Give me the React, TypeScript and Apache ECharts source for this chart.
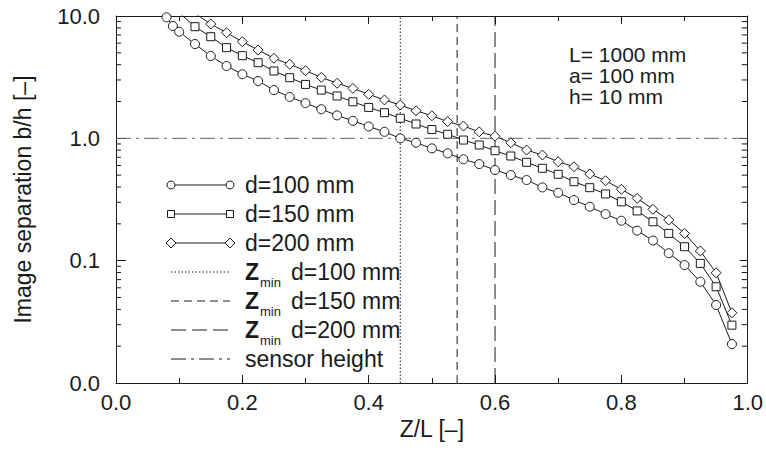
import React, { useEffect, useRef } from "react";
import * as echarts from "echarts";

// ---- data ----
const d100X = [0.08, 0.09, 0.1, 0.125, 0.15, 0.175, 0.2, 0.225, 0.25, 0.275, 0.3, 0.325, 0.35, 0.375, 0.4, 0.425, 0.45, 0.475, 0.5, 0.525, 0.55, 0.575, 0.6, 0.625, 0.65, 0.675, 0.7, 0.725, 0.75, 0.775, 0.8, 0.825, 0.85, 0.875, 0.9, 0.925, 0.95, 0.975];
const d100Y = [9.76, 8.28, 7.44, 5.9, 4.71, 3.9, 3.34, 2.94, 2.48, 2.18, 1.94, 1.73, 1.54, 1.39, 1.25, 1.13, 1.0, 0.921, 0.828, 0.754, 0.674, 0.616, 0.551, 0.501, 0.456, 0.397, 0.359, 0.313, 0.276, 0.24, 0.212, 0.176, 0.146, 0.115, 0.092, 0.0672, 0.0434, 0.0208];

const d150X = [0.1, 0.125, 0.15, 0.175, 0.2, 0.225, 0.25, 0.275, 0.3, 0.325, 0.35, 0.375, 0.4, 0.425, 0.45, 0.475, 0.5, 0.525, 0.55, 0.575, 0.6, 0.625, 0.65, 0.675, 0.7, 0.725, 0.75, 0.775, 0.8, 0.825, 0.85, 0.875, 0.9, 0.925, 0.95, 0.975];
const d150Y = [10.6, 8.18, 6.77, 5.51, 4.74, 4.15, 3.55, 3.13, 2.76, 2.48, 2.22, 1.99, 1.79, 1.62, 1.46, 1.31, 1.18, 1.08, 0.968, 0.882, 0.792, 0.717, 0.637, 0.569, 0.508, 0.442, 0.395, 0.351, 0.303, 0.255, 0.208, 0.167, 0.13, 0.095, 0.0612, 0.0297];

const d200X = [0.125, 0.15, 0.175, 0.2, 0.225, 0.25, 0.275, 0.3, 0.325, 0.35, 0.375, 0.4, 0.425, 0.45, 0.475, 0.5, 0.525, 0.55, 0.575, 0.6, 0.625, 0.65, 0.675, 0.7, 0.725, 0.75, 0.775, 0.8, 0.825, 0.85, 0.875, 0.9, 0.925, 0.95, 0.975];
const d200Y = [10.5, 8.6, 7.3, 6.16, 5.27, 4.51, 4.03, 3.57, 3.15, 2.82, 2.56, 2.29, 2.06, 1.87, 1.68, 1.53, 1.37, 1.26, 1.13, 1.04, 0.92, 0.802, 0.73, 0.644, 0.586, 0.511, 0.45, 0.383, 0.323, 0.263, 0.215, 0.167, 0.12, 0.0796, 0.0375];

const seriesNames = ["d=100 mm", "d=150 mm", "d=200 mm"];
const zminLabels = ["d=100 mm", "d=150 mm", "d=200 mm"];
const zminValues = [0.45, 0.54, 0.6];
const sensorHeight = 1.0;
const sensorLabel = "sensor height";
const yRange = [0.01, 10];
const xRange = [0, 1];
const yMinorTicks = [0.02, 0.03, 0.04, 0.05, 0.06, 0.07, 0.08, 0.09, 0.2, 0.3, 0.4, 0.5, 0.6, 0.7, 0.8, 0.9, 2, 3, 4, 5, 6, 7, 8, 9];
const infoLines = ["L= 1000 mm", "a= 100 mm", "h= 10 mm"];
const xTitle = "Z/L [\u2013]";
const yTitle = "Image separation b/h [\u2013]";

const FONT = "'Liberation Sans', Arial, Helvetica, sans-serif";
const INK = "#1a1a1a";

const zip = (xs: number[], ys: number[]) => xs.map((x, i) => [x, ys[i]]);

export default function App() {
  const ref = useRef<HTMLDivElement>(null);
  useEffect(() => {
    if (!ref.current) return;
    const chart = echarts.init(ref.current, null, { renderer: "svg" });

    const symbols = ["circle", "rect", "diamond"];
    const symbolSizes = [9, 8, 10];
    const dataSets = [zip(d100X, d100Y), zip(d150X, d150Y), zip(d200X, d200Y)];
    const zDash: any[] = [[1.5, 2], [8, 5], [15, 6]];
    const sensorDash = [15, 5, 3, 5];

    const curveSeries = dataSets.map((d, i) => ({
      type: "line",
      name: seriesNames[i],
      data: d,
      symbol: symbols[i],
      symbolSize: symbolSizes[i],
      showAllSymbol: true,
      clip: true,
      z: 5,
      lineStyle: { color: INK, width: 1 },
      itemStyle: { color: "#fff", borderColor: INK, borderWidth: 1 },
    }));

    const zSeries = zminValues.map((v, i) => ({
      type: "line",
      name: "Zmin " + zminLabels[i],
      data: [[v, yRange[0]], [v, yRange[1]]],
      symbol: "none",
      z: 3,
      lineStyle: { color: INK, width: 1, type: zDash[i] },
    }));

    const sensorSeries = {
      type: "line",
      name: sensorLabel,
      data: [[xRange[0], sensorHeight], [xRange[1], sensorHeight]],
      symbol: "none",
      z: 3,
      lineStyle: { color: "#666", width: 1, type: sensorDash },
    };

    const minorTickSeries = {
      type: "custom",
      data: yMinorTicks.map((v) => [0, v]),
      z: 10,
      silent: true,
      clip: false,
      renderItem: (params: any, api: any) => {
        const cs = params.coordSys;
        const py = api.coord([0, api.value(1)])[1];
        return {
          type: "group",
          children: [
            { type: "line", shape: { x1: cs.x, y1: py, x2: cs.x + 5, y2: py }, style: { stroke: INK, lineWidth: 1 } },
            { type: "line", shape: { x1: cs.x + cs.width - 6, y1: py, x2: cs.x + cs.width, y2: py }, style: { stroke: INK, lineWidth: 1 } },
          ],
        };
      },
    };

    // legend (graphic)
    const rowY = (i: number) => 185 + i * 29;
    const lx1 = 171, lx2 = 230, tx = 245;
    const legendEls: any[] = [];
    const mk = (type: string, cx: number, cy: number) => {
      const style = { fill: "#fff", stroke: INK, lineWidth: 1 };
      if (type === "circle") return { type: "circle", shape: { cx, cy, r: 4 }, style };
      if (type === "rect") return { type: "rect", shape: { x: cx - 3.5, y: cy - 3.5, width: 7, height: 7 }, style };
      return { type: "polygon", shape: { points: [[cx, cy - 5], [cx + 5, cy], [cx, cy + 5], [cx - 5, cy]] }, style };
    };
    seriesNames.forEach((n, i) => {
      const y = rowY(i);
      legendEls.push({ type: "line", shape: { x1: lx1, y1: y, x2: lx2, y2: y }, style: { stroke: INK, lineWidth: 1 } });
      legendEls.push(mk(symbols[i], lx1, y));
      legendEls.push(mk(symbols[i], lx2, y));
      legendEls.push({ type: "text", x: tx, y, style: { text: n, font: `23px ${FONT}`, fill: INK, verticalAlign: "middle", align: "left" } });
    });
    zminLabels.forEach((n, i) => {
      const y = rowY(3 + i);
      legendEls.push({ type: "line", shape: { x1: lx1, y1: y, x2: lx2, y2: y }, style: { stroke: INK, lineWidth: 1, lineDash: zDash[i] } });
      legendEls.push({ type: "text", x: tx, y, style: { text: "Z", font: `bold 23px ${FONT}`, fill: INK, verticalAlign: "middle", align: "left" } });
      legendEls.push({ type: "text", x: tx + 15, y: y + 10, style: { text: "min", font: `13px ${FONT}`, fill: INK, verticalAlign: "middle", align: "left" } });
      legendEls.push({ type: "text", x: tx + 46, y, style: { text: n, font: `23px ${FONT}`, fill: INK, verticalAlign: "middle", align: "left" } });
    });
    {
      const y = rowY(6);
      legendEls.push({ type: "line", shape: { x1: lx1, y1: y, x2: lx2, y2: y }, style: { stroke: INK, lineWidth: 1, lineDash: sensorDash } });
      legendEls.push({ type: "text", x: tx, y, style: { text: sensorLabel, font: `23px ${FONT}`, fill: INK, verticalAlign: "middle", align: "left" } });
    }
    infoLines.forEach((t, i) => {
      legendEls.push({ type: "text", x: 569, y: 54 + i * 21, style: { text: t, font: `21px ${FONT}`, fill: INK, verticalAlign: "middle", align: "left" } });
    });

    const xCommon = {
      type: "value",
      min: xRange[0],
      max: xRange[1],
      interval: 0.2,
      splitLine: { show: false },
      axisLine: { show: true, onZero: false, lineStyle: { color: INK, width: 1 } },
      axisTick: { show: true, inside: true, length: 8, lineStyle: { color: INK } },
      minorTick: { show: true, splitNumber: 2, length: 5, lineStyle: { color: INK } },
      minorSplitLine: { show: false },
    };
    const yCommon = {
      type: "log",
      logBase: 10,
      min: yRange[0],
      max: yRange[1],
      splitNumber: 3,
      splitLine: { show: false },
      axisLine: { show: true, onZero: false, lineStyle: { color: INK, width: 1 } },
      axisTick: { show: true, inside: true, length: 10, lineStyle: { color: INK } },
      minorTick: { show: false },
    };

    chart.setOption({
      animation: false,
      backgroundColor: "#fff",
      grid: { left: 116, right: 18, top: 16, bottom: 67, containLabel: false },
      xAxis: [
        {
          ...xCommon,
          position: "bottom",
          name: xTitle,
          nameLocation: "middle",
          nameGap: 27,
          nameTextStyle: { fontFamily: FONT, fontSize: 23, color: INK },
          axisLabel: { fontFamily: FONT, fontSize: 22, color: INK, margin: 8, formatter: (v: number) => v.toFixed(1) },
        },
        { ...xCommon, position: "top", axisLabel: { show: false } },
      ],
      yAxis: [
        {
          ...yCommon,
          position: "left",
          name: yTitle,
          nameLocation: "middle",
          nameGap: 82,
          nameTextStyle: { fontFamily: FONT, fontSize: 23, color: INK },
          axisLabel: { fontFamily: FONT, fontSize: 22, color: INK, margin: 16, formatter: (v: number) => v.toFixed(1) },
        },
        { ...yCommon, position: "right", axisTick: { ...yCommon.axisTick, length: 8 }, axisLabel: { show: false } },
      ],
      series: [...zSeries, sensorSeries, ...curveSeries, minorTickSeries],
      graphic: legendEls,
    });
    return () => chart.dispose();
  }, []);
  return <div ref={ref} style={{ position: "fixed", left: 0, top: 0, width: 766, height: 450, background: "#fff" }} />;
}
